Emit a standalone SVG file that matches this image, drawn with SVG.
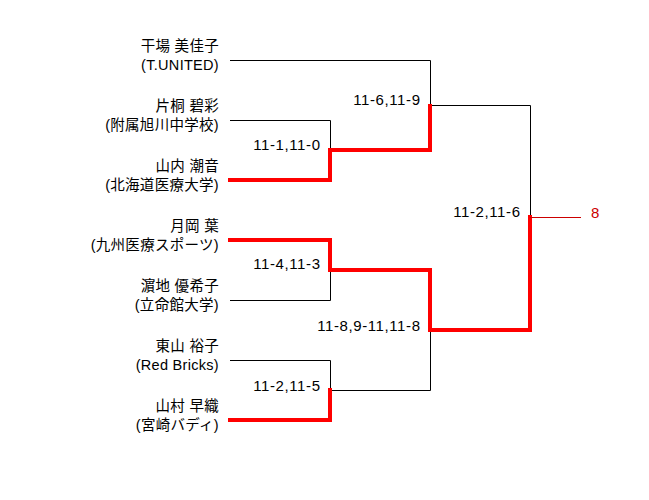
<svg xmlns="http://www.w3.org/2000/svg" width="649" height="500" viewBox="0 0 649 500">
<style>
text{font-family:"Liberation Sans","Noto Sans CJK JP",sans-serif;font-size:14.5px;fill:#000}
.n{text-anchor:end;letter-spacing:0.3px}
.s{text-anchor:end;font-size:15px;letter-spacing:0.6px}
.b{fill:none;stroke:#000;stroke-width:1}
.r{fill:none;stroke:#f00;stroke-width:4;stroke-linejoin:miter;stroke-linecap:butt}
</style>
<rect width="649" height="500" fill="#fff"/>
<g id="players">
<g id="p1"><text class="n" x="219" y="51">干場 美佳子</text><text class="n" x="219" y="69.5">(T.UNITED)</text></g>
<g id="p2"><text class="n" x="219" y="111">片桐 碧彩</text><text class="n" x="219" y="129.5">(附属旭川中学校)</text></g>
<g id="p3"><text class="n" x="219" y="171">山内 潮音</text><text class="n" x="219" y="189.5">(北海道医療大学)</text></g>
<g id="p4"><text class="n" x="219" y="231">月岡 葉</text><text class="n" x="219" y="249.5">(九州医療スポーツ)</text></g>
<g id="p5"><text class="n" x="219" y="291">濵地 優希子</text><text class="n" x="219" y="309.5">(立命館大学)</text></g>
<g id="p6"><text class="n" x="219" y="351">東山 裕子</text><text class="n" x="219" y="369.5">(Red Bricks)</text></g>
<g id="p7"><text class="n" x="219" y="411">山村 早織</text><text class="n" x="219" y="429.5">(宮崎バディ)</text></g>
</g>
<g id="connectors">
<path class="b" d="M230 60.5H430.5V150 M230 120.5H330.5V150 M230 300.5H330.5V270 M230 360.5H330.5V390.5H430.5V330 M430.5 105.5H530.5V217"/>
<polyline class="r" points="228,180 330,180 330,150 430,150 430,104"/>
<polyline class="r" points="228,240 330,240 330,270 430,270 430,330 530,330 530,215"/>
<polyline class="r" points="228,420 330,420 330,388"/>
<line x1="530" y1="217.5" x2="581" y2="217.5" stroke="#c00" stroke-width="1"/>
</g>
<g id="scores">
<text class="s" x="420.6" y="105">11-6,11-9</text>
<text class="s" x="320.6" y="150">11-1,11-0</text>
<text class="s" x="320.6" y="269">11-4,11-3</text>
<text class="s" x="420.6" y="331">11-8,9-11,11-8</text>
<text class="s" x="320.6" y="391">11-2,11-5</text>
<text class="s" x="520.6" y="217">11-2,11-6</text>
<text x="591" y="218" style="fill:#c00;font-size:15px">8</text>
</g>
</svg>
